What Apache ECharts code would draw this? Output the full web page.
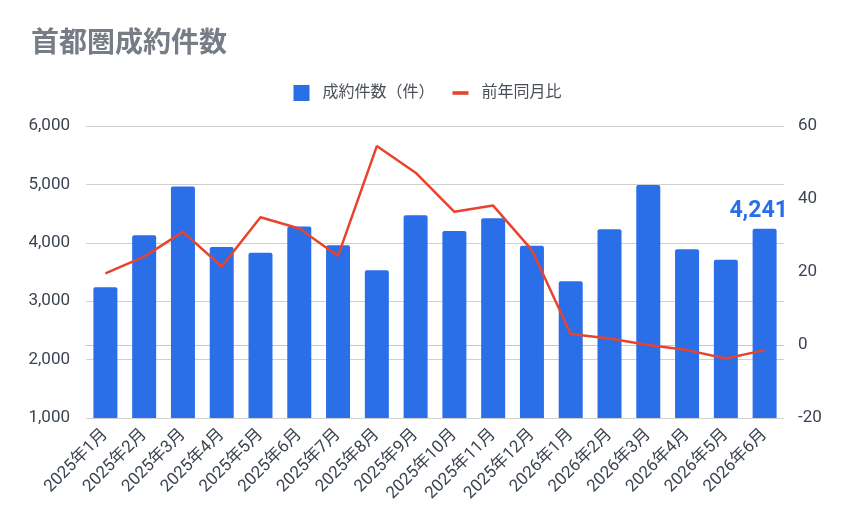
<!DOCTYPE html>
<html>
<head>
<meta charset="utf-8">
<script src="https://cdn.jsdelivr.net/npm/echarts@6/dist/echarts.min.js"></script>
<style>
html,body{margin:0;padding:0;background:#fff;}
#main{width:855px;height:528px;}
</style>
</head>
<body>
<div id="main"></div>
<script>
var months = ['2025年1月','2025年2月','2025年3月','2025年4月','2025年5月','2025年6月','2025年7月','2025年8月','2025年9月','2025年10月','2025年11月','2025年12月','2026年1月','2026年2月','2026年3月','2026年4月','2026年5月','2026年6月'];
var deals = [3240, 4130, 4965, 3930, 3830, 4280, 3960, 3530, 4470, 4200, 4420, 3950, 3340, 4230, 4990, 3890, 3710, 4241];
var yoy = [19.6, 24.2, 31.0, 21.5, 35.0, 31.9, 24.4, 54.5, 47.2, 36.5, 38.2, 26.0, 3.0, 1.8, 0.0, -1.4, -3.7, -1.4];

var FONT = "Roboto, 'Noto Sans CJK JP', sans-serif";
var TXT = '#3c4452';

// 最終月だけ値ラベルを付ける
var barData = deals.map(function(v, i){
	if(i == deals.length - 1){
		return {
			value: v,
			label: {
				show: true, position: 'top', distance: 6, offset: [-6, 0],
				color: '#2a6fe8', fontSize: 23, fontWeight: 'bold', fontFamily: FONT,
				formatter: function(p){ return p.value.toLocaleString('en-US'); }
			}
		};
	}
	return v;
});

var myChart = echarts.init(document.getElementById('main'));
var option = {
	backgroundColor: '#fff',
	textStyle: {fontFamily: FONT},
	title: {
		text: '首都圏成約件数',
		left: 26, top: 26,
		textStyle: {color: '#777d86', fontSize: 28, fontWeight: 'bold', fontFamily: FONT}
	},
	legend: {
		top: 80, left: 'center',
		itemWidth: 16, itemHeight: 16, itemGap: 18,
		textStyle: {color: '#4a4f57', fontSize: 16, fontFamily: FONT, padding: [0, 0, 0, 8]},
		data: [
			{name: '成約件数（件）', icon: 'rect'},
			{name: '前年同月比', icon: 'path://M0 0H20V4.5H0Z'}
		]
	},
	grid: {left: 86, right: 71, top: 126, bottom: 110},
	xAxis: {
		type: 'category',
		data: months,
		axisTick: {show: false},
		axisLine: {lineStyle: {color: '#c8c8c8'}},
		axisLabel: {rotate: 45, color: TXT, fontSize: 17, fontFamily: FONT, interval: 0, margin: 14}
	},
	yAxis: [
		{
			type: 'value', min: 1000, max: 6000, interval: 1000,
			axisLabel: {color: TXT, fontSize: 17, fontFamily: FONT, margin: 16,
				formatter: function(v){ return v.toLocaleString('en-US'); }},
			splitLine: {lineStyle: {color: '#d0d0d0'}},
			axisLine: {show: false}, axisTick: {show: false}
		},
		{
			type: 'value', min: -20, max: 60, interval: 20,
			axisLabel: {color: TXT, fontSize: 17, fontFamily: FONT, margin: 14},
			splitLine: {show: false},
			axisLine: {show: false}, axisTick: {show: false}
		}
	],
	series: [
		{
			name: '成約件数（件）',
			type: 'bar',
			barWidth: 24,
			itemStyle: {color: '#2a6fe8', borderRadius: [2, 2, 0, 0]},
			data: barData
		},
		{
			name: '前年同月比',
			type: 'line',
			yAxisIndex: 1,
			showSymbol: false,
			symbol: 'none',
			itemStyle: {color: '#e8432e'},
			lineStyle: {color: '#e8432e', width: 2.5},
			data: yoy
		}
	]
};
myChart.setOption(option);
</script>
</body>
</html>
